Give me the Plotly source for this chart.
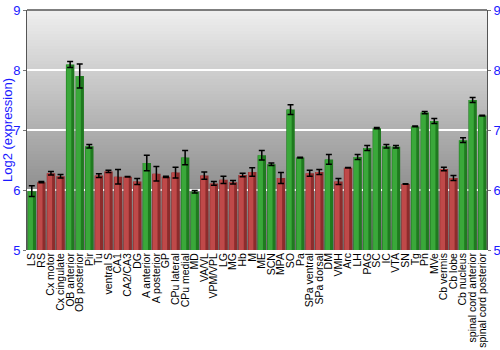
import plotly.graph_objects as go

regions = ["LS", "RS", "Cx motor", "Cx cingulate", "OB anterior", "OB posterior", "Pir", "Tu",
           "ventral S", "CA1", "CA2/CA3", "DG", "A anterior", "A posterior", "GP", "CPu lateral",
           "CPu medial", "MD", "VA/VL", "VPM/VPL", "LG", "MG", "Hb", "M", "ME", "SCN", "MPA", "SO",
           "Pa", "SPa ventral", "SPa dorsal", "DM", "VMH", "Arc", "LH", "PAG", "SC", "IC", "VTA",
           "SN", "Tg", "Pn", "MVe", "Cb vermis", "Cb lobe", "Cb nucleus", "spinal cord anterior",
           "spinal cord posterior"]
expression = [5.98, 6.13, 6.28, 6.23, 8.09, 7.90, 6.73, 6.24,
              6.31, 6.22, 6.22, 6.14, 6.45, 6.27, 6.22, 6.29,
              6.54, 5.97, 6.24, 6.11, 6.17, 6.13, 6.25, 6.30, 6.58, 6.43, 6.20, 7.34,
              6.54, 6.28, 6.30, 6.51, 6.14, 6.37, 6.55, 6.70, 7.03, 6.73, 6.72,
              6.10, 7.06, 7.29, 7.15, 6.35, 6.20, 6.83, 7.50,
              7.24]
error = [0.09, 0.01, 0.03, 0.03, 0.05, 0.20, 0.03, 0.03,
         0.02, 0.12, 0.005, 0.05, 0.13, 0.12, 0.01, 0.09,
         0.12, 0.02, 0.06, 0.03, 0.06, 0.03, 0.03, 0.07, 0.08, 0.02, 0.09, 0.08,
         0.005, 0.05, 0.04, 0.08, 0.05, 0.005, 0.04, 0.04, 0.01, 0.03, 0.02,
         0.005, 0.005, 0.02, 0.04, 0.03, 0.04, 0.04, 0.04,
         0.005]
group = ["G", "R", "R", "R", "G", "G", "G", "R",
         "R", "R", "R", "R", "G", "R", "R", "R",
         "G", "G", "R", "R", "R", "R", "R", "R", "G", "G", "R", "G",
         "G", "R", "R", "G", "R", "R", "G", "G", "G", "G", "G",
         "R", "G", "G", "G", "R", "R", "G", "G",
         "G"]

dark = {"G": "#1f7a1f", "R": "#8c2c2c"}
light = {"G": "#3aa83a", "R": "#bf4949"}

fig = go.Figure()
fig.add_trace(go.Bar(x=regions, y=expression, width=0.88,
                     marker=dict(color=[dark[g] for g in group], line=dict(width=0)),
                     hoverinfo="skip", showlegend=False))
fig.add_trace(go.Bar(x=regions, y=expression, width=0.5, offset=-0.38,
                     marker=dict(color=[light[g] for g in group], line=dict(width=0)),
                     showlegend=False))
fig.add_trace(go.Scatter(x=regions, y=expression, mode="markers",
                         marker=dict(size=0.1, color="rgba(0,0,0,0)"),
                         error_y=dict(type="data", array=error, color="black", thickness=1.5, width=3),
                         showlegend=False, hoverinfo="skip"))
fig.add_trace(go.Scatter(x=regions[:1], y=[5], yaxis="y2", mode="markers",
                         marker=dict(color="rgba(0,0,0,0)"), showlegend=False, hoverinfo="skip"))

# gradient background stripes (overlapping to avoid seams)
n = 80
shapes = []
for i in range(n):
    f = (i + 0.5) / n
    c = int(round(239 - 128 * f))
    shapes.append(dict(type="rect", xref="x domain", yref="y domain", x0=0, x1=1,
                       y0=max(0, 1 - (i + 1) / n - 0.006), y1=1 - i / n,
                       fillcolor=f"rgb({c},{c},{c})",
                       line=dict(width=0), layer="below"))

fig.update_layout(
    width=500, height=350,
    margin=dict(l=27, r=13, t=10, b=100),
    paper_bgcolor="white", plot_bgcolor="rgba(0,0,0,0)",
    barmode="overlay",
    shapes=shapes,
    font=dict(family="Arial, Liberation Sans, sans-serif", size=12, color="black"),
    xaxis=dict(tickangle=-90, ticks="", showgrid=False, showline=False, automargin=False,
               tickmode="linear", dtick=1, tick0=0,
               tickfont=dict(size=10.5, color="black", family="Liberation Sans, Arial, sans-serif"),
               range=[-0.5, 47.5]),
    yaxis=dict(range=[5, 9], tickvals=[5, 6, 7, 8, 9], showgrid=True, gridcolor="white",
               gridwidth=2, zeroline=False, showline=True, linecolor="#555", linewidth=1,
               ticks="outside", ticklen=3, tickcolor="#777", automargin=False,
               tickfont=dict(size=13, color="#1a1aff"),
               title=dict(text="Log2 (expression)", font=dict(size=13, color="#1a1aff"), standoff=2)),
    yaxis2=dict(range=[5, 9], tickvals=[5, 6, 7, 8, 9], overlaying="y", side="right",
                showgrid=False, zeroline=False, showline=True, linecolor="#555", linewidth=1,
                ticks="outside", ticklen=3, tickcolor="#777", automargin=False,
                tickfont=dict(size=13, color="#1a1aff")),
)
fig.add_shape(type="line", xref="paper", yref="paper", x0=0, x1=1, y0=1, y1=1,
              line=dict(color="#555", width=1.5))

fig.write_html("out.html")
